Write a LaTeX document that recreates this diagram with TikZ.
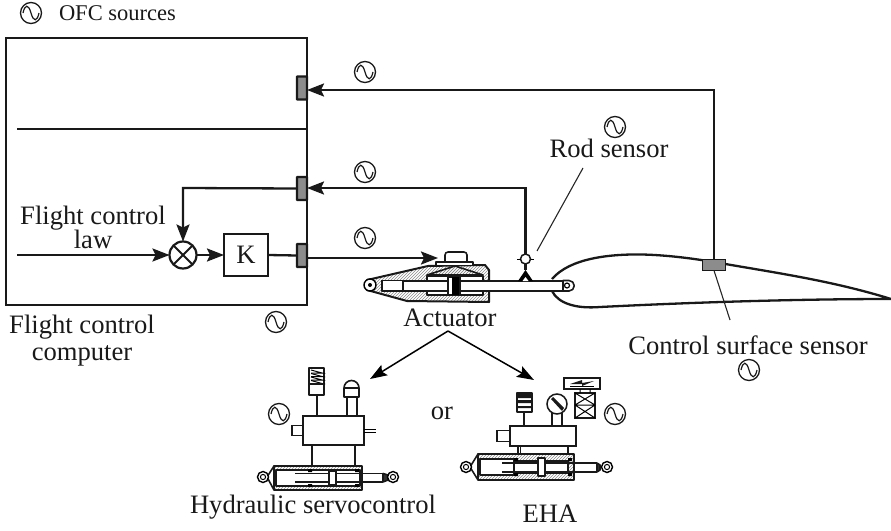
\documentclass[tikz,border=0pt]{standalone}
\usepackage{fontspec}
\setmainfont{Liberation Serif}
\usetikzlibrary{arrows.meta,patterns,shapes.misc}
\tikzset{
  x=1pt,y=-1pt,
  every node/.style={inner sep=0pt,outer sep=0pt},
  lbl/.style={font=\fontsize{26.6}{27}\selectfont,align=center,text=black!90},
  wire/.style={line width=2.3pt,draw=black!90},
  thinwire/.style={line width=1.1pt,draw=black!85},
  fb/.style={wire,-{Stealth[length=17pt,width=13pt,inset=3pt]}},
  devline/.style={line width=1.6pt,draw=black!90,line join=round},
  hat/.style={pattern=north east lines,pattern color=black!45},
  port/.style={draw=black!90,line width=2.2pt,fill=black!45,minimum width=10pt,minimum height=23pt,rectangle,rounded corners=0.5pt},
  sinegl/.pic={
    \node[circle,draw=black!90,line width=1.3pt,minimum size=21pt] (-c) at (0,0) {};
    \draw[line width=1.2pt,black!90] (-8,0) .. controls (-6,-9) and (-2.5,-9) .. (0,0) .. controls (2.5,9) and (6,9) .. (8,0);
  },
  eye/.pic={
    \draw[line width=1.4pt,fill=white] (0,0) circle (5.5pt);
    \draw[line width=1pt,fill=white] (0,0) circle (2.6pt);
  }
}
\begin{document}
\begin{tikzpicture}
\useasboundingbox (0,0) rectangle (891,530);
% icons
\foreach \nm/\px/\py in {ia/31/13,ib/365/72,ic/365/172,id/365/238,ie/615/127,ig/276/322,ih/279/414,ii/615/414,ij/749/370}
  \pic (\nm) at (\px,\py) {sinegl};
% texts
\node[lbl,font=\fontsize{22.5}{24}\selectfont,anchor=west] (ofc) at (59,13) {OFC sources};
\node[lbl] (rodt) at (609,148) {Rod sensor};
\node[lbl] (fcl) at (93,227) {Flight control\\[-3pt]law};
\node[lbl] (fcc) at (82,340.5) {Flight control\\computer};
\node[lbl] (act) at (450,318) {Actuator};
\node[lbl] (css) at (748,345) {Control surface sensor};
\node[lbl] (ort) at (442,413) {or};
\node[lbl] (hyd) at (313,507) {Hydraulic servocontrol};
\node[lbl] (eha) at (550,514) {EHA};
% computer
\node[rectangle,draw=black!90,line width=2.2pt,minimum width=301pt,minimum height=267pt,anchor=north west] (fcbox) at (6,38) {};
\coordinate (sepL) at (17,129);
\coordinate (sepR) at (306,129);
\draw[wire] (sepL) -- (sepR);
\node[port] (pa) at (302,88) {};
\node[port] (pb) at (302,188.5) {};
\node[port] (pc) at (302,255.5) {};
\node[circle,draw=black!90,line width=2.2pt,minimum size=27pt,fill=white] (sum) at (183,255) {};
\draw[wire,line width=1.8pt] (sum.north west) -- (sum.south east) (sum.north east) -- (sum.south west);
\node[rectangle,draw=black!90,line width=2.2pt,minimum width=44pt,minimum height=42pt,lbl] (k) at (246,255) {K};
\coordinate (inp) at (17,255);
\draw[fb] (inp) -- (sum.west);
\draw[fb] (sum.east) -- (k.west);
\draw[wire] (k.east) -- (pc.west);
\draw[fb] (pb.west) -- (183,188) -- (sum.north);
% airfoil
\draw[line width=2.3pt,draw=black!90] (552,279) .. controls (570,258) and (610,254) .. (642,254.5) .. controls (665,255) and (690,258) .. (714,262)
  .. controls (770,272) and (830,280) .. (891,299)
  .. controls (820,299) and (720,301) .. (600,307) .. controls (575,309) and (558,303) .. (552,291);
% surface sensor
\node[rectangle,draw=black!90,line width=1.6pt,fill=black!45,minimum width=23pt,minimum height=11pt] (ss) at (714,265) {};
\coordinate (ssl) at (730,320);
\draw[thinwire] (ss.south) -- (ssl);
\draw[fb] (ss.north) -- (714,90) -- (pa.east |- 0,90);
% actuator
\draw[devline,line width=2pt,hat] (367,280) -- (428,266) -- (485,265) -- (489,270) -- (489,302) -- (407,301) -- (367,290) -- cycle;
\draw[devline,fill=white] (427,276) -- (483,276) -- (483,295) -- (427,295) -- cycle;
\draw[devline,hat] (427,275) -- (455,266) -- (483,275) -- cycle;
\draw[devline,fill=white,line width=2pt] (382,280.5) rectangle (563,291);
\draw[devline,fill=white] (382,280.5) rectangle (403,291);
\draw[devline,fill=white] (563,280.5) -- (569,280.5) arc[start angle=90,end angle=-90,radius=5.25pt] -- (563,291) -- cycle;
\node[circle,draw=black,line width=1.2pt,minimum size=5pt] (ac2) at (567,285.5) {};
\node[circle,draw=black,line width=1.4pt,fill=white,minimum size=12pt] (ac1) at (370,285) {};
\fill[black] (370,285) circle (2pt);
\draw[devline,fill=white] (448,277) rectangle (460,295);
\fill[black] (452,277) rectangle (459,295);
\draw[devline,fill=white,rounded corners=3pt] (445,263) -- (445,252) -- (467,252) -- (467,263);
\draw[devline,fill=white] (436,262) rectangle (473,265.5);
% rod sensor
\node[circle,draw=black!90,line width=1.5pt,minimum size=10pt] (rs) at (525.5,259) {};
\coordinate (rsL) at (517,259);
\coordinate (rsR) at (534,259);
\draw[line width=1pt] (rsL) -- (rs.west) (rs.east) -- (rsR);
\draw[wire] (rs.south) -- (525.5,270);
\fill[black] (518,281) -- (525.5,270) -- (533,281) -- cycle;
\fill[white] (522.5,281) -- (525.5,277) -- (528.5,281) -- cycle;
\coordinate (rsk) at (537,251);
\coordinate (rsk2) at (583,168);
\draw[thinwire] (rsk) -- (rsk2);
\draw[fb] (rs.north) -- (525.5,188) -- (pb.east |- 0,188);
\coordinate (actin) at (438,258);
\draw[fb] (307,258) -- (actin);
% actuator arrows
\coordinate (apex) at (448,331);
\coordinate (tl) at (370,379);
\coordinate (tr) at (534,380);
\draw[line width=1.5pt,-{Stealth[length=17pt,width=12pt,inset=3pt]}] (apex) -- (tl);
\draw[line width=1.5pt,-{Stealth[length=17pt,width=12pt,inset=3pt]}] (apex) -- (tr);
% ---------- hydraulic servocontrol
\draw[devline,fill=white] (309,368) rectangle (324,395);
\foreach \yy in {370,373.5,377,380.5} \draw[line width=1pt] (311,\yy) -- (322,\yy+3) -- (311,\yy+3);
\fill[black!90] (309,383) rectangle (324,385);
\draw[devline] (317,395) -- (317,416);
\draw[devline,fill=white] (344,397) -- (344,388) arc[start angle=180,end angle=0,radius=7.5pt] -- (359,397) -- cycle;
\draw[devline] (344,388) -- (359,388);
\draw[devline] (347,397) -- (347,416) (357,397) -- (357,416);
\node[rectangle,draw=black!90,line width=1.6pt,fill=white,minimum width=61pt,minimum height=29pt] (hb) at (333.5,430.5) {};
\node[rectangle,draw=black!90,line width=1.3pt,fill=white,minimum width=11pt,minimum height=10pt,anchor=east] (hs) at (hb.west) {};
\draw[line width=1pt] (hb.east |- 0,429) -- (376,429) (hb.east |- 0,432) -- (376,432);
\draw[devline,line width=2pt] (312,445) -- (312,467) (355,445) -- (355,467);
\draw[devline,hat] (274,466) rectangle (362,490);
\draw[devline,fill=white] (276,470) rectangle (360,486);
\draw[devline] (274,466) -- (267,477) -- (274,490);
\fill[black] (308,469) rectangle (312,472) (355,469) rectangle (359,472) (308,484) rectangle (312,487) (355,484) rectangle (359,487);
\draw[devline] (295,473.5) -- (383,473.5) (295,482) -- (383,482);
\draw[devline,fill=black!80] (383,473.5) -- (388,475) -- (388,480) -- (383,482) -- cycle;
\draw[devline,hat,fill=white] (329,471) rectangle (336,485);
\pic at (263,477) {eye};
\pic at (393,477) {eye};
% ---------- EHA
\draw[devline,fill=white] (517,393) rectangle (532,412);
\fill[black!90] (518,394) rectangle (531,398) (518,400) rectangle (531,403) (518,406) rectangle (531,408);
\draw[devline] (524,412) -- (524,426);
\node[circle,draw=black!90,line width=1.5pt,fill=white,minimum size=20pt] (gauge) at (557,404) {};
\fill[black!90] (551,399) -- (553,397) -- (564,408) -- (562,411) -- cycle;
\draw[devline] (552,413) -- (552,426) (562,413) -- (562,426);
\node[rectangle,draw=black!90,line width=1.5pt,fill=white,minimum width=36pt,minimum height=11pt] (v1) at (582,383.5) {};
\fill[black!90] (570,384) -- (582,380) -- (582,383) -- (594,381) -- (582,386) -- (582,384) -- cycle;
\draw[line width=1pt] (570,386) -- (594,386);
\node[rectangle,draw=black!90,line width=1.5pt,fill=white,minimum width=20pt,minimum height=25pt] (v2) at (585,405.5) {};
\draw[line width=1pt] (v2.north west) -- (595,405) (v2.north east) -- (575,405) (575,405) -- (595,405) (v2.south west) -- (595,405) (v2.south east) -- (575,405) (580,389) -- (580,393) (590,389) -- (590,393);
\node[rectangle,draw=black!90,line width=1.6pt,fill=white,minimum width=66pt,minimum height=20pt] (eb) at (543,436) {};
\node[rectangle,draw=black!90,line width=1.3pt,fill=white,minimum width=13pt,minimum height=11pt,anchor=east] (es) at (eb.west) {};
\draw[devline] (518,446) -- (518,455) (520.5,446) -- (520.5,455) (568,446) -- (568,455);
\draw[devline,hat] (478,454) rectangle (574,480);
\draw[devline,fill=white] (480,459) rectangle (514,475);
\draw[devline,fill=white] (514,461) rectangle (568,473);
\fill[black] (514,458) rectangle (518,461) (568,458) rectangle (572,461) (514,473) rectangle (518,476) (568,473) rectangle (572,476);
\draw[devline] (502,463) -- (597,463) (502,472) -- (597,472);
\draw[devline,fill=black!80] (597,463) -- (600,465) -- (600,470) -- (597,472) -- cycle;
\draw[devline,hat,fill=white] (538,458) rectangle (545,476);
\draw[devline] (478,454) -- (470,467) -- (478,480);
\pic at (466,467) {eye};
\pic at (607,467) {eye};
\end{tikzpicture}
\end{document}
